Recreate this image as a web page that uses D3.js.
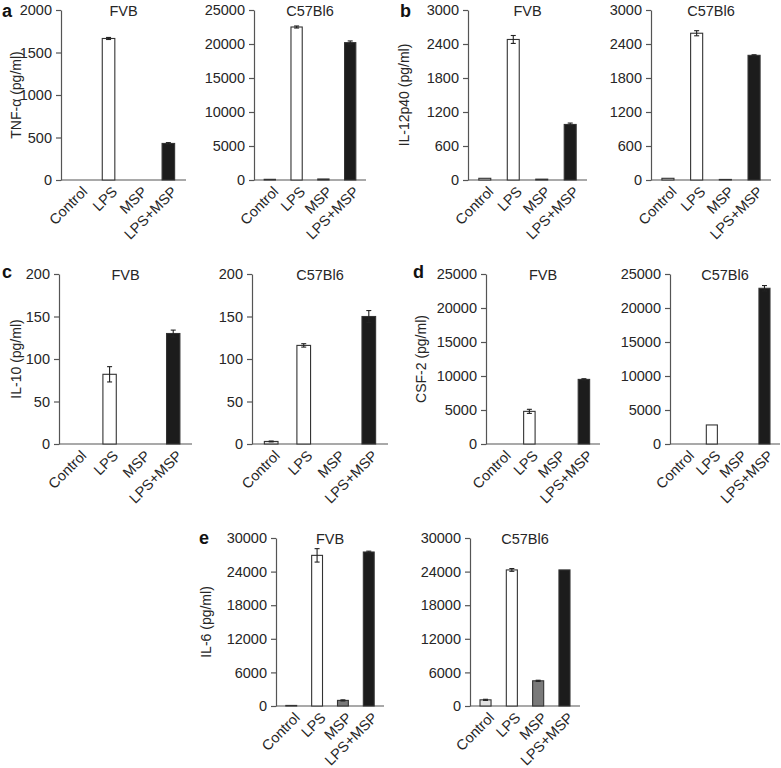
<!DOCTYPE html>
<html><head><meta charset="utf-8">
<script src="https://cdn.jsdelivr.net/npm/d3@7"></script>
<style>
html,body{margin:0;padding:0;background:#fff;}
svg{display:block;font-family:"Liberation Sans",Arial,Helvetica,sans-serif;}
</style></head>
<body><svg id="chart" width="781" height="768"></svg>
<script>
// ---------- data ----------
const categories = ["Control", "LPS", "MSP", "LPS+MSP"];
const strains = ["FVB", "C57Bl6"];
const panelLetters = ["a", "b", "c", "d", "e"];
const yLabels = ["TNF-\u03b1 (pg/ml)", "IL-12p40 (pg/ml)", "IL-10 (pg/ml)", "CSF-2 (pg/ml)", "IL-6 (pg/ml)"];

const tnfTicksFVB = [0, 500, 1000, 1500, 2000];
const tnfTicksC57 = [0, 5000, 10000, 15000, 20000, 25000];
const il12Ticks = [0, 600, 1200, 1800, 2400, 3000];
const il10Ticks = [0, 50, 100, 150, 200];
const csfTicks = [0, 5000, 10000, 15000, 20000, 25000];
const il6Ticks = [0, 6000, 12000, 18000, 24000, 30000];

const tnfFVB = [0, 1665, 0, 430];       const tnfFVBErr = [0, 12, 0, 10];
const tnfC57 = [100, 22500, 150, 20200]; const tnfC57Err = [0, 150, 0, 250];
const il12FVB = [30, 2480, 15, 980];     const il12FVBErr = [0, 70, 0, 25];
const il12C57 = [30, 2590, 10, 2200];    const il12C57Err = [0, 45, 0, 10];
const il10FVB = [0, 82, 0, 130];         const il10FVBErr = [0, 9, 0, 4];
const il10C57 = [3, 116, 0, 150];        const il10C57Err = [0.5, 2, 0, 7];
const csfFVB = [0, 4800, 0, 9500];       const csfFVBErr = [0, 300, 0, 100];
const csfC57 = [0, 2800, 0, 22900];      const csfC57Err = [0, 0, 0, 400];
const il6FVB = [100, 26900, 1000, 27500]; const il6FVBErr = [0, 1200, 100, 150];
const il6C57 = [1100, 24300, 4500, 24300]; const il6C57Err = [100, 250, 100, 0];

// ---------- layout (positions only) ----------
const panels = [
  {values: tnfFVB,  err: tnfFVBErr,  ticks: tnfTicksFVB, strain: 0, x0: 61,  x1: 186, yTop: 10,  yBot: 180, letter: 0, lx: 16,  letterX: 2,   letterY: 17},
  {values: tnfC57,  err: tnfC57Err,  ticks: tnfTicksC57, strain: 1, x0: 254, x1: 366, yTop: 10,  yBot: 180},
  {values: il12FVB, err: il12FVBErr, ticks: il12Ticks,   strain: 0, x0: 468, x1: 587, yTop: 10,  yBot: 180, letter: 1, lx: 404, letterX: 400, letterY: 17},
  {values: il12C57, err: il12C57Err, ticks: il12Ticks,   strain: 1, x0: 651, x1: 771, yTop: 10,  yBot: 180},
  {values: il10FVB, err: il10FVBErr, ticks: il10Ticks,   strain: 0, x0: 59,  x1: 192, yTop: 274, yBot: 444, letter: 2, lx: 16,  letterX: 2,   letterY: 278},
  {values: il10C57, err: il10C57Err, ticks: il10Ticks,   strain: 1, x0: 252, x1: 388, yTop: 274, yBot: 444},
  {values: csfFVB,  err: csfFVBErr,  ticks: csfTicks,    strain: 0, x0: 486, x1: 600, yTop: 274, yBot: 444, letter: 3, lx: 421, letterX: 413, letterY: 278},
  {values: csfC57,  err: csfC57Err,  ticks: csfTicks,    strain: 1, x0: 670, x1: 780, yTop: 274, yBot: 444},
  {values: il6FVB,  err: il6FVBErr,  ticks: il6Ticks,    strain: 0, x0: 276, x1: 384, yTop: 538, yBot: 706, letter: 4, lx: 206, letterX: 199, letterY: 544},
  {values: il6C57,  err: il6C57Err,  ticks: il6Ticks,    strain: 1, x0: 470, x1: 580, yTop: 538, yBot: 706}
];
const fills = ["#e2e2e2", "#ffffff", "#7a7a7a", "#1c1c1c"];

const svg = d3.select("#chart");
const ink = "#262626";
const fs = 14.5;

panels.forEach(p => {
  const g = svg.append("g");
  const ticks = p.ticks;
  const y = d3.scaleLinear().domain([0, ticks[ticks.length - 1]]).range([p.yBot, p.yTop]);
  const x = d3.scaleBand().domain(categories).range([p.x0, p.x1]).paddingInner(0.58).paddingOuter(0.38);

  // y axis
  const yAxis = d3.axisLeft(y).tickValues(ticks).tickFormat(d3.format("d")).tickSize(5).tickPadding(4).tickSizeOuter(0);
  const ya = g.append("g").attr("transform", `translate(${p.x0},0)`).call(yAxis);
  ya.select(".domain").attr("stroke", "#555").attr("stroke-width", 1.2);
  ya.selectAll(".tick line").attr("stroke", "#555").attr("stroke-width", 1.2);
  ya.selectAll(".tick text").attr("fill", ink).attr("font-size", fs).attr("font-family", "Liberation Sans, Arial, sans-serif");

  // x baseline
  g.append("line").attr("x1", p.x0).attr("x2", p.x1).attr("y1", p.yBot).attr("y2", p.yBot)
    .attr("stroke", "#555").attr("stroke-width", 1.2);

  // bars
  g.selectAll("rect.bar").data(p.values).join("rect").attr("class", "bar")
    .attr("x", (d, i) => x(categories[i]))
    .attr("width", x.bandwidth())
    .attr("y", d => y(d))
    .attr("height", d => y(0) - y(d))
    .attr("fill", (d, i) => fills[i])
    .attr("stroke", "#333").attr("stroke-width", 1.1);

  // error bars
  p.values.forEach((v, i) => {
    const e = p.err[i];
    if (!e) return;
    const cx = x(categories[i]) + x.bandwidth() / 2;
    g.append("line").attr("x1", cx).attr("x2", cx).attr("y1", y(v + e)).attr("y2", y(v - e))
      .attr("stroke", "#222").attr("stroke-width", 1.1);
    [v + e, v - e].forEach(t => {
      g.append("line").attr("x1", cx - 2.5).attr("x2", cx + 2.5).attr("y1", y(t)).attr("y2", y(t))
        .attr("stroke", "#222").attr("stroke-width", 1.1);
    });
  });

  // x labels
  categories.forEach(c => {
    const cx = x(c) + x.bandwidth() / 2;
    g.append("text").attr("transform", `translate(${cx + 6},${p.yBot + 9}) rotate(-45)`)
      .attr("text-anchor", "end").attr("dy", "0.35em")
      .attr("font-size", fs).attr("fill", ink).text(c);
  });

  // title
  g.append("text").attr("x", (p.x0 + p.x1) / 2).attr("y", p.yTop + 6)
    .attr("text-anchor", "middle").attr("font-size", fs).attr("fill", ink).text(strains[p.strain]);

  // y label + panel letter
  if (p.letter !== undefined) {
    g.append("text").attr("transform", `translate(${p.lx},${(p.yTop + p.yBot) / 2}) rotate(-90)`)
      .attr("text-anchor", "middle").attr("dy", "0.35em").attr("font-size", 14).attr("fill", ink)
      .text(yLabels[p.letter]);
    g.append("text").attr("x", p.letterX).attr("y", p.letterY).attr("font-size", 18).attr("font-weight", "bold")
      .attr("fill", "#111").text(panelLetters[p.letter]);
  }
});
</script></body></html>
